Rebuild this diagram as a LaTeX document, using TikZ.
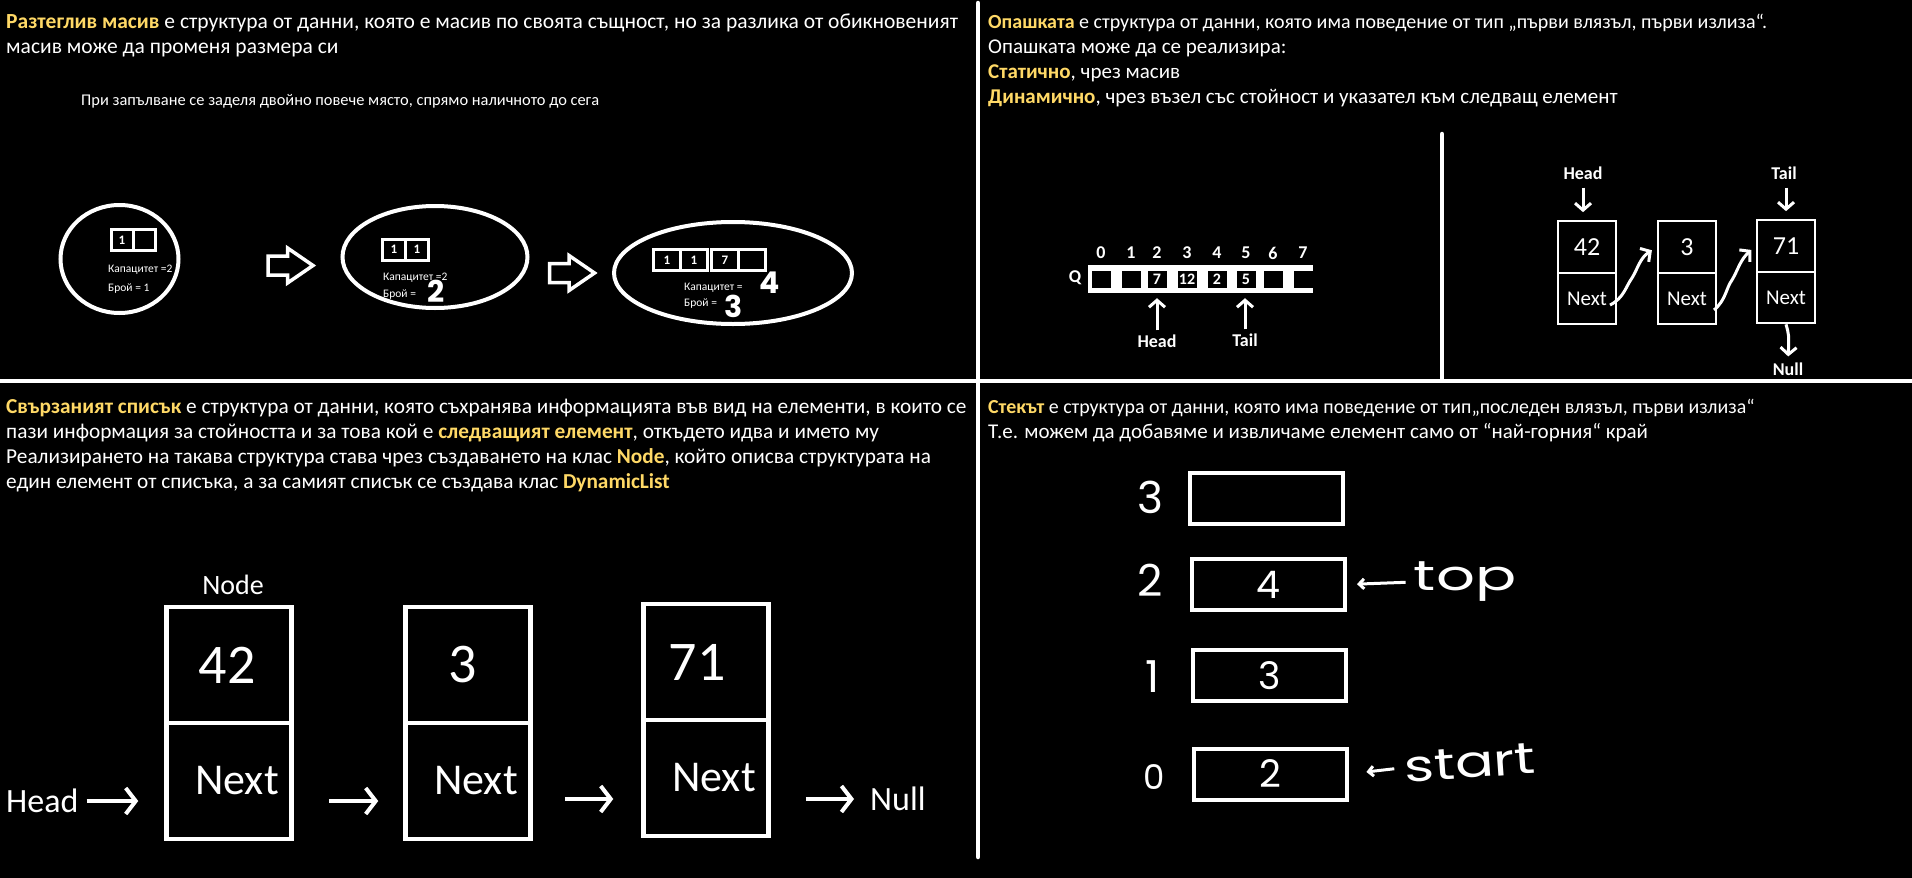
\documentclass[tikz,border=0pt]{standalone}
\usepackage{fontspec}
\setmainfont{Carlito}
\newfontfamily\hand{Poppins}
\usetikzlibrary{arrows.meta,shapes.geometric}
\definecolor{hl}{RGB}{255,217,102}
\newcommand\myfs[1]{\fontsize{#1}{#1}\selectfont}
\begin{document}
\begin{tikzpicture}[x=1pt,y=-1pt,
  every node/.style={text=white, inner sep=0pt},
  txt/.style={anchor=base west, font=\myfs{21.5}},
  rtxt/.style={anchor=base west, font=\myfs{21}},
  divider/.style={draw=white, line width=4.5pt, line cap=round},
  ell/.style={ellipse, draw=white, line width=4pt},
  acell/.style={draw=white, line width=3pt, minimum width=22pt, minimum height=21pt, font=\bfseries\myfs{13}},
  small/.style={anchor=base west, font=\myfs{11.5}},
  bigd/.style={font=\bfseries\hand\myfs{30}},
  blockar/.style={draw=white, line width=3.5pt, fill=black, line join=miter},
  qcell/.style={fill=black, minimum width=19pt, minimum height=17pt, font=\bfseries\myfs{16}},
  qlbl/.style={font=\bfseries\myfs{18}},
  arr/.style={draw=white, line width=3pt, -{Straight Barb[length=7pt,width=16pt]}},
  lcell/.style={draw=white, line width=2.2pt, minimum width=58pt, minimum height=51.5pt},
  bcell/.style={draw=white, line width=4.5pt, minimum width=125pt, minimum height=116pt},
  sbox/.style={draw=white, line width=4pt, minimum width=153pt, minimum height=51pt, font=\hand\myfs{38}},
  slbl/.style={font=\hand\myfs{44}},
  harr/.style={draw=white, line width=3pt, -{Straight Barb[length=5pt,width=10pt]}},
  barr/.style={draw=white, line width=4pt, -{Straight Barb[length=10pt,width=26pt]}}
]
\path[fill=black, use as bounding box] (0,0) rectangle (1912,878);

% dividers
\draw[divider] (978,3) -- (978,857);
\draw[divider, line cap=butt] (0,381) -- (1912,381);
\draw[divider] (1442,134) -- (1442,379);

% ---------- top left ----------
\node[txt] (tl1) at (6,28) {{\bfseries\color{hl}Разтеглив масив} е структура от данни, която е масив по своята същност, но за разлика от обикновеният};
\node[txt] (tl2) at (6,53) {масив може да променя размера си};
\node[txt, font=\myfs{16.4}] (tl3) at (81,105) {При запълване се заделя двойно повече място, спрямо наличното до сега};

\node[ell, minimum width=118pt, minimum height=108pt] (e1) at (119.5,259) {};
\node[acell, minimum width=22pt] (a11) at (122,240) {1};
\node[acell, minimum width=22pt] (a12) at (144,240) {};
\node[small] (k1) at (108,272) {Капацитет =2};
\node[small] (b1) at (108,291) {Брой = 1};

\draw[blockar, shift={(290.5,265.5)}] (-22.5,-9.5) -- (-3,-9.5) -- (-3,-17.5) -- (22.5,0) -- (-3,17.5) -- (-3,9.5) -- (-22.5,9.5) -- cycle;

\node[ell, minimum width=185pt, minimum height=102pt] (e2) at (435,257) {};
\node[acell, minimum width=23pt] (a21) at (394,249.5) {1};
\node[acell, minimum width=23pt] (a22) at (417,249.5) {1};
\node[small] (k2) at (383,280) {Капацитет =2};
\node[small] (b2) at (383,297) {Брой =};
\node[bigd] (n2) at (436,291) {2};

\draw[blockar, shift={(572,273)}] (-22.5,-9.5) -- (-3,-9.5) -- (-3,-17.5) -- (22.5,0) -- (-3,17.5) -- (-3,9.5) -- (-22.5,9.5) -- cycle;

\node[ell, minimum width=238pt, minimum height=102pt] (e3) at (733,273) {};
\node[acell, minimum width=27pt] (a31) at (667,260) {1};
\node[acell, minimum width=27pt] (a32) at (694,260) {1};
\node[acell, minimum width=27pt] (a33) at (725,260) {7};
\node[acell, minimum width=27pt] (a34) at (752,260) {};
\node[small] (k3) at (684,290) {Капацитет =};
\node[small] (b3) at (684,306) {Брой =};
\node[bigd] (n4) at (770,283) {4};
\node[bigd] (n3) at (734,306) {3};

% ---------- top right ----------
\node[rtxt, font=\myfs{20}] (tr1) at (988,28) {{\bfseries\color{hl}Опашката} е структура от данни, която има поведение от тип „първи влязъл, първи излиза“.};
\node[rtxt] (tr2) at (988,53) {Опашката може да се реализира:};
\node[rtxt] (tr3) at (988,78) {{\bfseries\color{hl}Статично}, чрез масив};
\node[rtxt] (tr4) at (988,103) {{\bfseries\color{hl}Динамично}, чрез възел със стойност и указател към следващ елемент};

% static queue
\node[fill=white, minimum width=225pt, minimum height=28pt] (qarr) at (1200.5,279) {};
\node[qlbl] (ql) at (1075,278) {Q};
\foreach \i/\x/\v in {0/1101/,1/1131/,2/1157/7,3/1187/12,4/1217/2,5/1246/5,6/1273/,7/1303/} {
  \node[qcell] (qc\i) at (\x,279) {\v};
  \node[qlbl] (qi\i) at (\x,253) {\i};
}
\node[qlbl] (qh) at (1157,341) {Head};
\node[qlbl] (qt) at (1245,340) {Tail};
\draw[arr, shorten <=4pt, shorten >=5pt] (qh.north) -- (qh.north |- qarr.south);
\draw[arr, shorten <=4pt, shorten >=5pt] (qt.north) -- (qt.north |- qarr.south);

% dynamic queue
\node[qlbl] (dh) at (1583,173) {Head};
\node[qlbl] (dt) at (1784,173) {Tail};
\node[lcell, font=\myfs{26}] (d1v) at (1587,247) {42};
\node[lcell, font=\myfs{21}] (d1n) at (1587,298.5) {Next};
\node[lcell, font=\myfs{26}] (d2v) at (1687,247) {3};
\node[lcell, font=\myfs{21}] (d2n) at (1687,298.5) {Next};
\node[lcell, font=\myfs{26}] (d3v) at (1786,246) {71};
\node[lcell, font=\myfs{21}] (d3n) at (1786,297.5) {Next};
\node[qlbl] (dn) at (1788,369) {Null};
\draw[arr, shorten <=8pt, shorten >=8pt] (dh.south) -- (dh.south |- d1v.north);
\draw[arr, shorten <=8pt, shorten >=8pt] (dt.south -| d3v.north) -- (d3v.north);
\coordinate (c1) at (1610,305);
\coordinate (c2) at (1714,310);
\draw[arr, shorten >=6pt] (c1) .. controls (1624,298) and (1626,286) .. (1632,278) .. controls (1638,268) and (1640,258) .. (d2v.west);
\draw[arr, shorten >=6pt] (c2) .. controls (1726,300) and (1726,288) .. (1732,280) .. controls (1738,270) and (1740,260) .. (d3v.west);
\draw[arr, shorten >=6pt] (d3n.south) .. controls (1789,335) .. (dn.north);

% ---------- bottom left ----------
\node[txt, font=\myfs{21.3}] (bl1) at (6,413) {{\bfseries\color{hl}Свързаният списък} е структура от данни, която съхранява информацията във вид на елементи, в които се};
\node[txt, font=\myfs{21.3}] (bl2) at (6,438) {пази информация за стойността и за това кой е {\bfseries\color{hl}следващият елемент}, откъдето идва и името му};
\node[txt, font=\myfs{21.3}] (bl3) at (6,463) {Реализирането на такава структура става чрез създаването на клас {\bfseries\color{hl}Node}, който описва структурата на};
\node[txt, font=\myfs{21.3}] (bl4) at (6,488) {един елемент от списъка, а за самият списък се създава клас {\bfseries\color{hl}DynamicList}};

\node[font=\myfs{28}] (nodelbl) at (233,585) {Node};
\node[bcell, font=\myfs{56}] (l1v) at (229,665) {\raisebox{-6pt}{\hspace*{-4pt}42}};
\node[bcell, font=\myfs{44}] (l1n) at (229,781) {\raisebox{-3pt}{\hspace*{16pt}Next}};
\node[bcell, font=\myfs{56}] (l2v) at (468,665) {\raisebox{-6pt}{\hspace*{-10pt}3}};
\node[bcell, font=\myfs{44}] (l2n) at (468,781) {\raisebox{-3pt}{\hspace*{16pt}Next}};
\node[bcell, font=\myfs{56}] (l3v) at (706,662) {\raisebox{-8pt}{\hspace*{-18pt}71}};
\node[bcell, font=\myfs{44}] (l3n) at (706,778) {\raisebox{-3pt}{\hspace*{16pt}Next}};
\node[anchor=west, font=\myfs{34}] (lhead) at (6,801) {Head};
\node[anchor=west, font=\myfs{34}] (lnull) at (870,799) {Null};
\draw[barr, shorten <=8pt, shorten >=26pt] (lhead.east) -- (lhead.east -| l1n.west);
\draw[barr, shorten <=35pt, shorten >=25pt] (l1n.east |- lhead.east) -- (l2n.west |- lhead.east);
\draw[barr, shorten <=32pt, shorten >=28pt] (l2n.east |- lnull.west) -- (l3n.west |- lnull.west);
\draw[barr, shorten <=35pt, shorten >=16pt] (l3n.east |- lnull.west) -- (lnull.west);

% ---------- bottom right ----------
\node[rtxt, font=\myfs{19.9}] (br1) at (988,413) {{\bfseries\color{hl}Стекът} е структура от данни, която има поведение от тип„последен влязъл, първи излиза“};
\node[rtxt] (br2) at (988,438) {Т.е. можем да добавяме и извличаме елемент само от “най-горния“ край};

\node[sbox] (s3) at (1266.5,498.5) {};
\node[sbox] (s2) at (1268.5,584.5) {4};
\node[sbox] (s1) at (1269.5,675.5) {3};
\node[sbox] (s0) at (1270,774) {2};
\node[slbl] (i3) at (1150,497) {3};
\node[slbl] (i2) at (1150,580) {2};
\node[slbl] (i1) at (1153,677) {1};
\node[slbl, font=\hand\myfs{34}] (i0) at (1154,777) {0};
\node[font=\hand\myfs{42}] (top) at (1465,582) {\scalebox{1.45}[1]{top}};
\node[font=\hand\myfs{44}, rotate=4] (start) at (1470,763) {\scalebox{1.3}[1]{start}};
\draw[harr, shorten <=8pt, shorten >=10pt] (top.west) -- (s2.east);
\draw[harr, shorten <=10pt, shorten >=18pt] (start.west) -- (s0.east);
\end{tikzpicture}
\end{document}
